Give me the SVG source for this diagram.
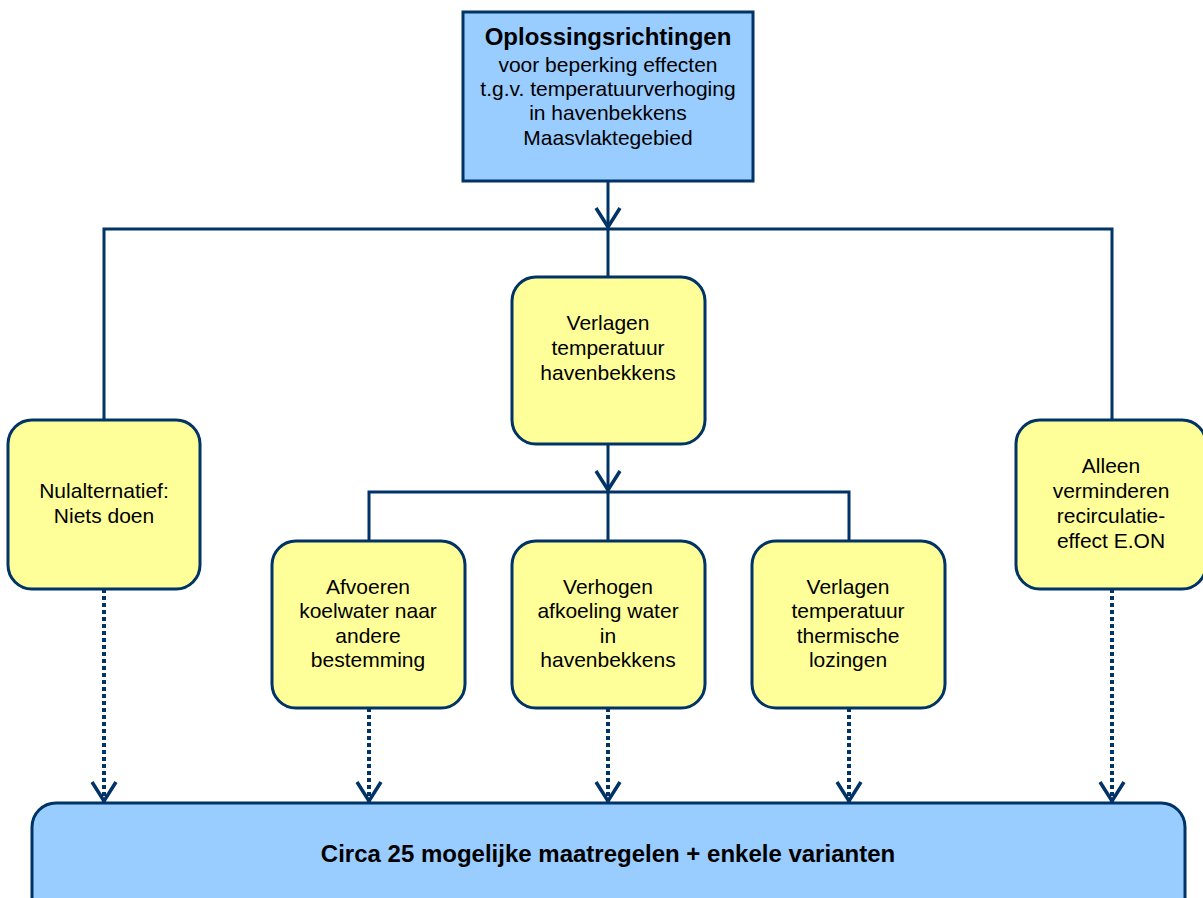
<svg xmlns="http://www.w3.org/2000/svg" width="1203" height="898" viewBox="0 0 1203 898">
  <style>
    .txt { font-family: "Liberation Sans", Arial, sans-serif; font-size: 21px; fill: #000; text-anchor: middle; }
    .bold { font-weight: bold; font-size: 24px; }
    .yellow { fill: #FFFF99; stroke: #003366; stroke-width: 3; }
    .blue { fill: #99CCFF; stroke: #003366; stroke-width: 3; }
    .line { fill: none; stroke: #003366; stroke-width: 3; }
    .dotted { fill: none; stroke: #003366; stroke-width: 4; stroke-dasharray: 4 3; }
  </style>
  <defs>
    <!-- open V arrowhead, drawn pointing along +x so orient="auto" turns it with the line -->
    <marker id="arrow" viewBox="-22 -14 24 28" refX="0" refY="0" markerWidth="24" markerHeight="28" markerUnits="userSpaceOnUse" orient="auto">
      <path d="M-20,-12 L-1,0 L-20,12" fill="none" stroke="#003366" stroke-width="3.5" stroke-dasharray="none"/>
    </marker>
  </defs>
  <rect width="1203" height="898" fill="#FFFFFF"/>

  <!-- connectors -->
  <g id="connectors">
    <line class="line" x1="608" y1="181" x2="608" y2="228" marker-end="url(#arrow)"/>
    <path class="line" d="M104,420 V229 H1112 V420"/>
    <line class="line" x1="608" y1="229" x2="608" y2="277"/>
    <line class="line" x1="608" y1="444" x2="608" y2="491" marker-end="url(#arrow)"/>
    <path class="line" d="M369,541 V492 H849 V541"/>
    <line class="line" x1="608" y1="492" x2="608" y2="541"/>
    <line class="dotted" x1="104" y1="589" x2="104" y2="802" marker-end="url(#arrow)"/>
    <line class="dotted" x1="369" y1="708" x2="369" y2="802" marker-end="url(#arrow)"/>
    <line class="dotted" x1="608" y1="708" x2="608" y2="802" marker-end="url(#arrow)"/>
    <line class="dotted" x1="849" y1="708" x2="849" y2="802" marker-end="url(#arrow)"/>
    <line class="dotted" x1="1112" y1="589" x2="1112" y2="802" marker-end="url(#arrow)"/>
  </g>

  <g id="top">
    <rect class="blue" x="463" y="12" width="290" height="169"/>
    <text class="txt bold" x="608" y="45">Oplossingsrichtingen</text>
    <text class="txt" x="608" y="72">voor beperking effecten</text>
    <text class="txt" x="608" y="96">t.g.v. temperatuurverhoging</text>
    <text class="txt" x="608" y="120">in havenbekkens</text>
    <text class="txt" x="608" y="145">Maasvlaktegebied</text>
  </g>

  <g id="nul">
    <rect class="yellow" x="8" y="420" width="192" height="169" rx="24"/>
    <text class="txt" x="104" y="498">Nulalternatief:</text>
    <text class="txt" x="104" y="523">Niets doen</text>
  </g>

  <g id="verlagen">
    <rect class="yellow" x="512" y="277" width="193" height="167" rx="24"/>
    <text class="txt" x="608" y="330">Verlagen</text>
    <text class="txt" x="608" y="355">temperatuur</text>
    <text class="txt" x="608" y="380">havenbekkens</text>
  </g>

  <g id="alleen">
    <rect class="yellow" x="1016" y="420" width="190" height="169" rx="24"/>
    <text class="txt" x="1111" y="473">Alleen</text>
    <text class="txt" x="1111" y="498">verminderen</text>
    <text class="txt" x="1111" y="523">recirculatie-</text>
    <text class="txt" x="1111" y="548">effect E.ON</text>
  </g>

  <g id="afvoeren">
    <rect class="yellow" x="272" y="541" width="193" height="167" rx="24"/>
    <text class="txt" x="368" y="594">Afvoeren</text>
    <text class="txt" x="368" y="618">koelwater naar</text>
    <text class="txt" x="368" y="643">andere</text>
    <text class="txt" x="368" y="667">bestemming</text>
  </g>

  <g id="verhogen">
    <rect class="yellow" x="512" y="541" width="193" height="167" rx="24"/>
    <text class="txt" x="608" y="594">Verhogen</text>
    <text class="txt" x="608" y="618">afkoeling water</text>
    <text class="txt" x="608" y="643">in</text>
    <text class="txt" x="608" y="667">havenbekkens</text>
  </g>

  <g id="lozingen">
    <rect class="yellow" x="752" y="541" width="193" height="167" rx="24"/>
    <text class="txt" x="848" y="594">Verlagen</text>
    <text class="txt" x="848" y="618">temperatuur</text>
    <text class="txt" x="848" y="643">thermische</text>
    <text class="txt" x="848" y="667">lozingen</text>
  </g>

  <g id="maatregelen">
    <rect class="blue" x="32" y="803" width="1153" height="120" rx="24"/>
    <text class="txt bold" x="608" y="862">Circa 25 mogelijke maatregelen + enkele varianten</text>
  </g>
</svg>
